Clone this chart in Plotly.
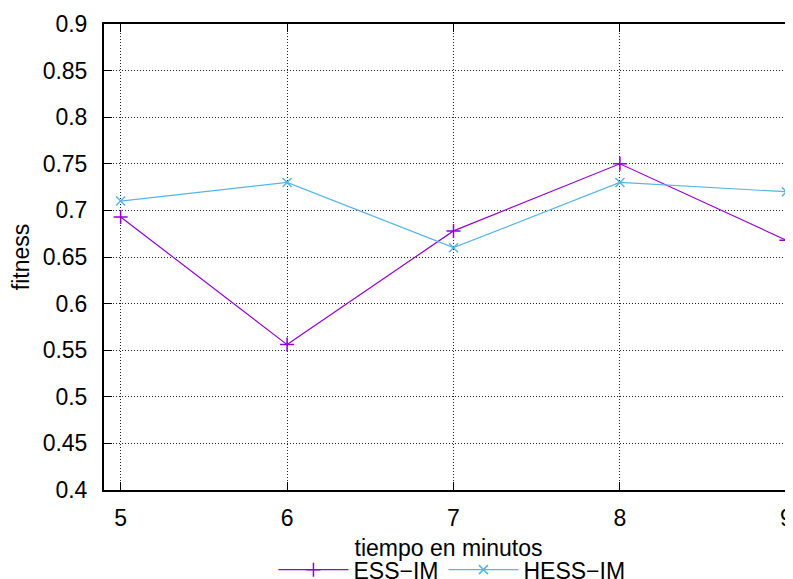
import plotly.graph_objects as go

x_minutes = [5, 6, 7, 8, 9]
ess_im = [0.693, 0.556, 0.678, 0.750, 0.668]
hess_im = [0.710, 0.730, 0.660, 0.730, 0.720]
series_names = ["ESS\u2212IM", "HESS\u2212IM"]
y_ticks = [0.4, 0.45, 0.5, 0.55, 0.6, 0.65, 0.7, 0.75, 0.8, 0.85, 0.9]
y_tick_labels = ["0.4", "0.45", "0.5", "0.55", "0.6", "0.65", "0.7", "0.75", "0.8", "0.85", "0.9"]

FONT = "Liberation Sans, Arial, sans-serif"
FS = 23

fig = go.Figure()
fig.add_trace(go.Scatter(
    x=x_minutes, y=ess_im, name=series_names[0], mode="lines+markers",
    line=dict(color="#9400d3", width=1.2),
    marker=dict(symbol="cross-thin", size=10, line=dict(color="#9400d3", width=1.5)),
))
fig.add_trace(go.Scatter(
    x=x_minutes, y=hess_im, name=series_names[1], mode="lines+markers",
    line=dict(color="#56b4e9", width=1.2),
    marker=dict(symbol="x-thin", size=9, line=dict(color="#56b4e9", width=1.5)),
))

grid = dict(showgrid=True, gridcolor="#222", griddash="1px,2px", gridwidth=1,
            zeroline=False, showline=True, linecolor="black", linewidth=2,
            ticks="inside", ticklen=8, tickcolor="black", automargin=False)

fig.update_layout(
    width=785, height=571,
    margin=dict(l=96, r=0, t=16, b=89, autoexpand=False),
    paper_bgcolor="white", plot_bgcolor="white",
    font=dict(family=FONT, size=FS, color="black"),
    showlegend=True,
    legend=dict(orientation="h", x=0.505, xanchor="center", y=-0.171, yanchor="middle",
                font=dict(size=FS), itemwidth=70, tracegroupgap=0,
                bgcolor="rgba(0,0,0,0)"),
    xaxis=dict(
        range=[4.9, 9.04], tickvals=x_minutes, ticktext=[str(v) for v in x_minutes],
        mirror="ticks", ticklabelstandoff=6,
        title=dict(text="tiempo en minutos", font=dict(size=FS), standoff=10),
        **grid,
    ),
    yaxis=dict(
        range=[0.4, 0.9], tickvals=y_ticks, ticktext=y_tick_labels,
        mirror=False, ticklabelstandoff=10,
        title=dict(text="fitness", font=dict(size=FS), standoff=15),
        **grid,
    ),
)

fig.write_html("out.html")
